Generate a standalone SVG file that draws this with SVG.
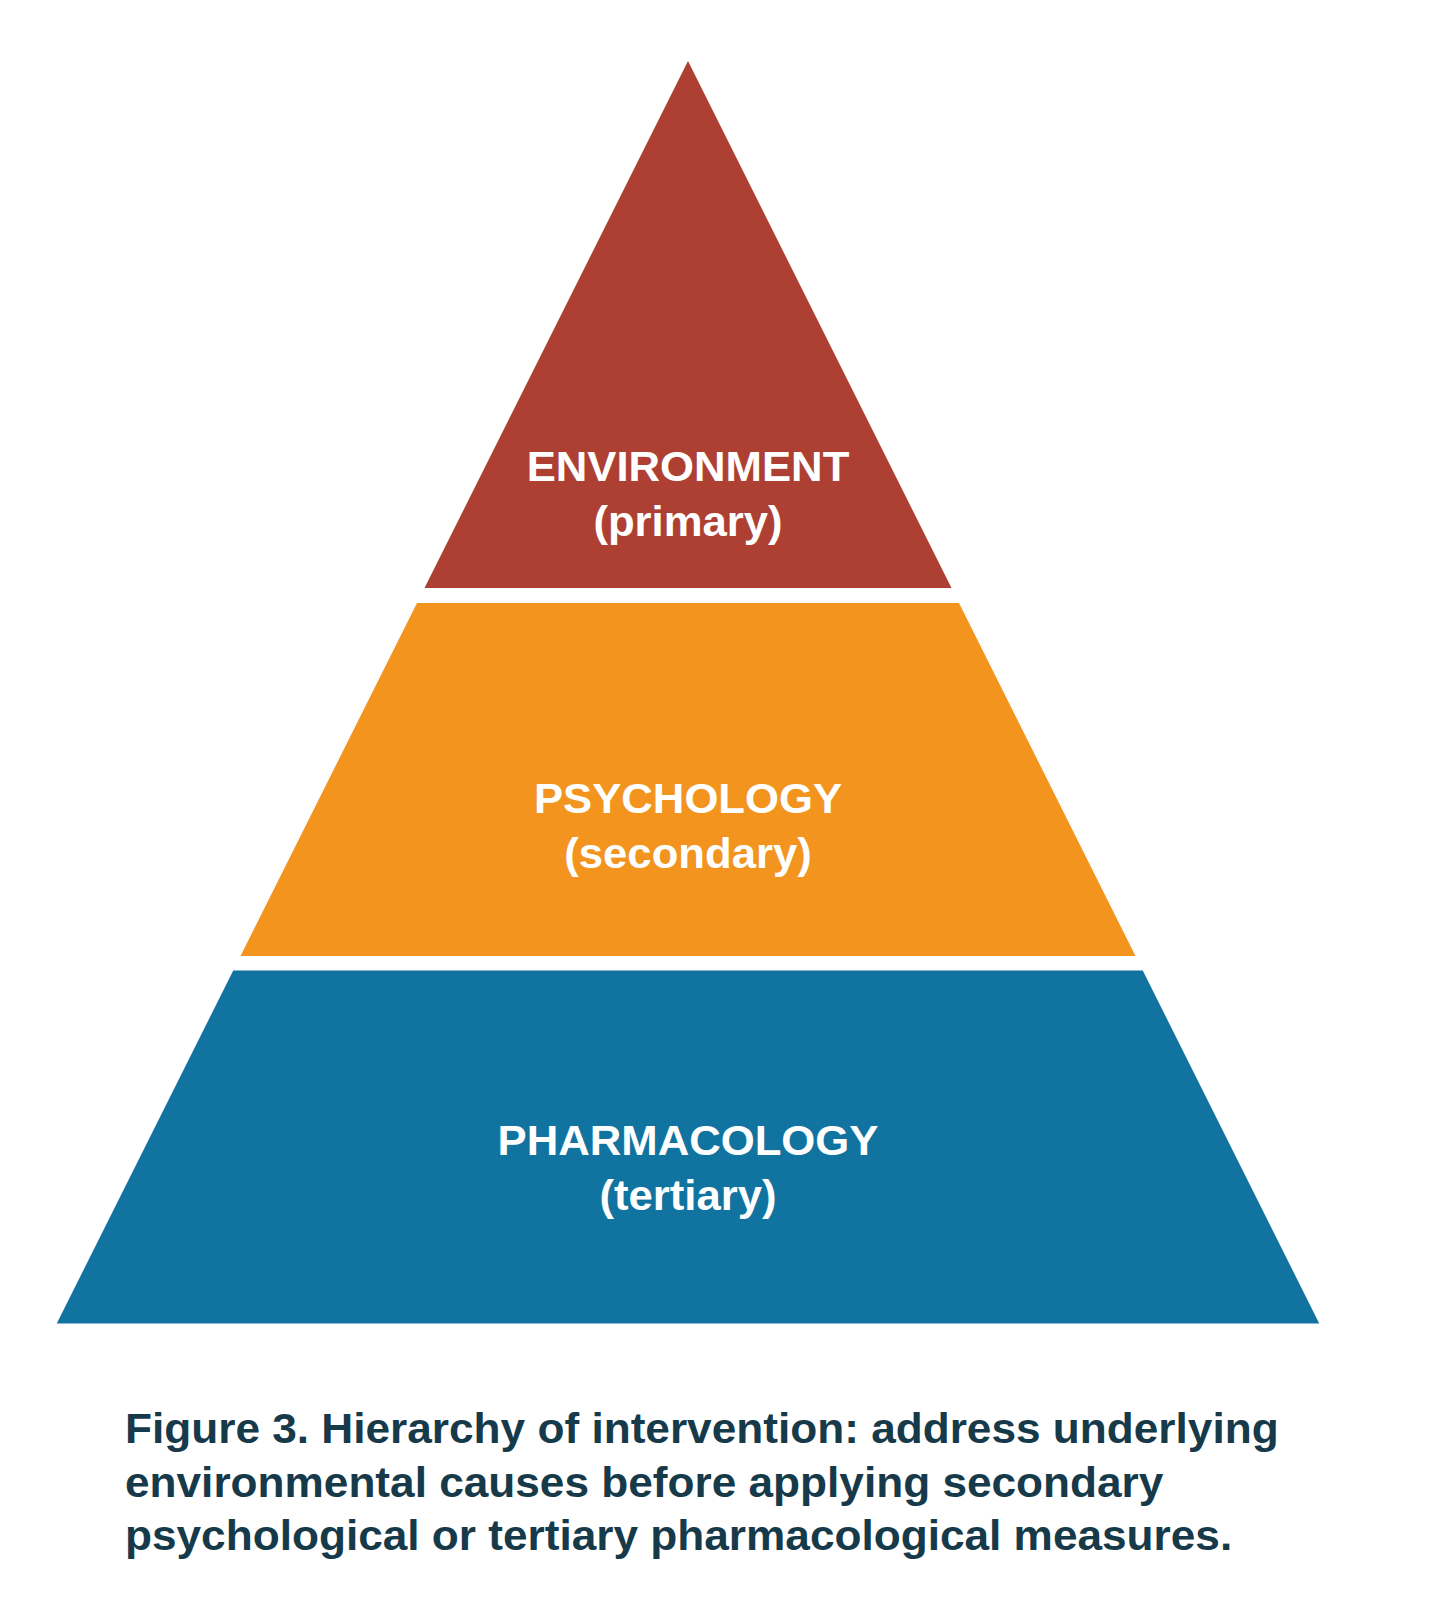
<svg xmlns="http://www.w3.org/2000/svg" width="1442" height="1600" viewBox="0 0 1442 1600">
<style>
.lbl{font-family:"Liberation Sans",Arial,sans-serif;font-weight:bold;font-size:42px;fill:#ffffff;text-anchor:middle}
.cap{font-family:"Liberation Sans",Arial,sans-serif;font-weight:bold;font-size:42px;fill:#173A4A}
</style>
<rect width="1442" height="1600" fill="#ffffff"/>
<g id="tier-environment">
<polygon points="688,61 951.5,588 424.5,588" fill="#AE4033"/>
<text class="lbl" transform="translate(688,481) scale(1.04,1)">ENVIRONMENT</text>
<text class="lbl" transform="translate(688,536) scale(1.04,1)">(primary)</text>
</g>
<g id="tier-psychology">
<polygon points="417,603 959,603 1135.5,956 240.5,956" fill="#F2941E"/>
<text class="lbl" transform="translate(688,813) scale(1.04,1)">PSYCHOLOGY</text>
<text class="lbl" transform="translate(688,868) scale(1.04,1)">(secondary)</text>
</g>
<g id="tier-pharmacology">
<polygon points="233.25,970.5 1142.75,970.5 1319.25,1323.5 56.75,1323.5" fill="#11739F"/>
<text class="lbl" transform="translate(688,1155) scale(1.04,1)">PHARMACOLOGY</text>
<text class="lbl" transform="translate(688,1210) scale(1.04,1)">(tertiary)</text>
</g>
<g id="connectors"></g>
<g id="caption">
<text class="cap" transform="translate(125,1443) scale(1.052,1)">Figure 3. Hierarchy of intervention: address underlying</text>
<text class="cap" transform="translate(125,1496.5) scale(1.052,1)">environmental causes before applying secondary</text>
<text class="cap" transform="translate(125,1550) scale(1.052,1)">psychological or tertiary pharmacological measures.</text>
</g>
</svg>
